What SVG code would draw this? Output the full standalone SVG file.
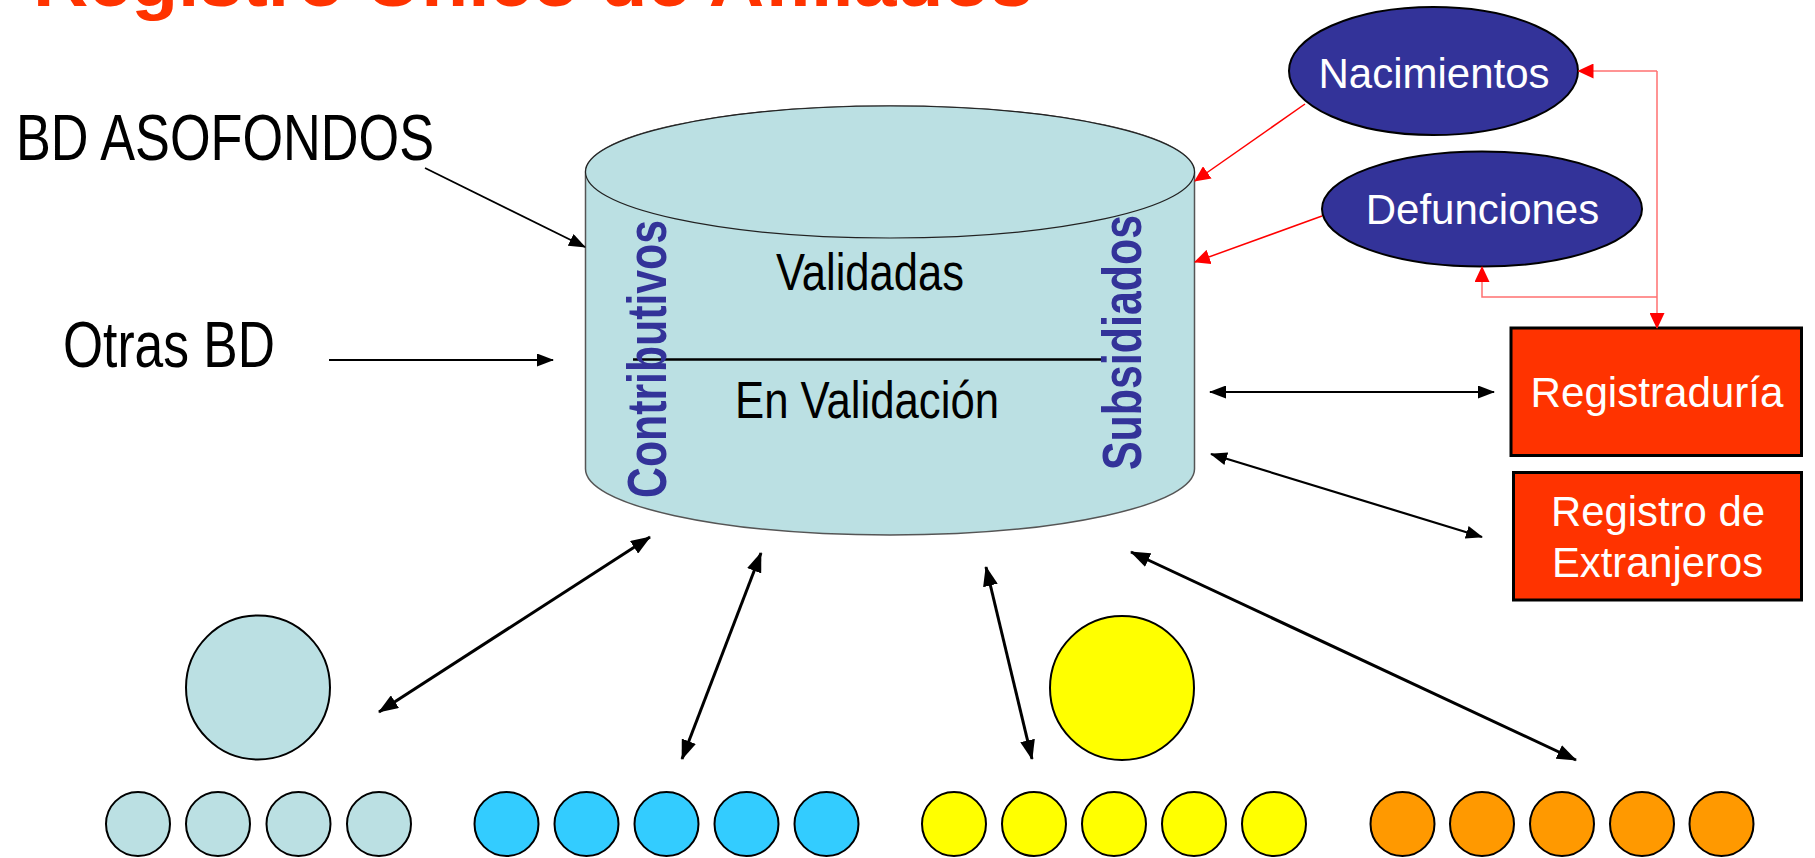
<svg xmlns="http://www.w3.org/2000/svg" width="1815" height="858" viewBox="0 0 1815 858">
<style>
.sans{font-family:"Liberation Sans",Arial,sans-serif}
.bk{stroke:#000;fill:none}
.rd{stroke:#FF0000;fill:none;stroke-width:1.5}
.rdl{stroke:#FF7070;fill:none;stroke-width:1.5}
.oval{fill:#333399;stroke:#000;stroke-width:2}
.ovt{fill:#fff;font-size:42px;text-anchor:middle}
.box{fill:#FF3300;stroke:#000;stroke-width:3}
.sc{stroke:#000;stroke-width:2}
.lb{fill:#BBE0E3}
.cy{fill:#33CCFF}
.ye{fill:#FFFF00}
.or{fill:#FF9900}
.blk{font-size:65px;fill:#000}
.cyl{font-size:52px;fill:#000;text-anchor:middle}
.side{font-size:56px;font-weight:bold;fill:#333399}
</style>
<defs>
<marker id="ah" markerUnits="userSpaceOnUse" markerWidth="17" markerHeight="13" refX="16" refY="6.5" orient="auto-start-reverse" viewBox="0 0 17 13">
<path d="M0,0 L17,6.5 L0,13 Z" fill="#000"/>
</marker>
<marker id="ahb" markerUnits="userSpaceOnUse" markerWidth="20" markerHeight="15" refX="19" refY="7.5" orient="auto-start-reverse" viewBox="0 0 20 15">
<path d="M0,0 L20,7.5 L0,15 Z" fill="#000"/>
</marker>
<marker id="ar" markerUnits="userSpaceOnUse" markerWidth="16" markerHeight="15" refX="15" refY="7.5" orient="auto" viewBox="0 0 16 15">
<path d="M0,0 L16,7.5 L0,15 Z" fill="#FF0000"/>
</marker>
</defs>

<g id="title">
<text class="sans" x="33" y="6" font-size="72" font-weight="bold" fill="#FF3300" textLength="1000" lengthAdjust="spacingAndGlyphs">Registro Único de Afiliados</text>
</g>

<g id="database">
<path d="M585.5 172 V469 A304.5 66 0 0 0 1194.5 469 V172 A304.5 66 0 0 0 585.5 172 Z" fill="#BBE0E3" stroke="#555" stroke-width="1.5"/>
<ellipse cx="890" cy="172" rx="304.5" ry="66" fill="#BBE0E3" stroke="#222" stroke-width="1.2"/>
<line x1="633" y1="359.5" x2="1103" y2="359.5" stroke="#000" stroke-width="2.5"/>
<text class="sans cyl" x="870" y="290" textLength="188" lengthAdjust="spacingAndGlyphs">Validadas</text>
<text class="sans cyl" x="867" y="418" textLength="264" lengthAdjust="spacingAndGlyphs">En Validación</text>
<text class="sans side" transform="translate(666,498) rotate(-90)" textLength="278" lengthAdjust="spacingAndGlyphs">Contributivos</text>
<text class="sans side" transform="translate(1141,470) rotate(-90)" textLength="255" lengthAdjust="spacingAndGlyphs">Subsidiados</text>
</g>

<g id="bd-asofondos">
<text class="sans blk" x="16" y="160" textLength="418" lengthAdjust="spacingAndGlyphs">BD ASOFONDOS</text>
</g>
<g id="otras-bd">
<text class="sans blk" x="63" y="367" textLength="212" lengthAdjust="spacingAndGlyphs">Otras BD</text>
</g>

<g id="nacimientos">
<ellipse class="oval" cx="1433.5" cy="71" rx="144.5" ry="64"/>
<text class="sans ovt" x="1434" y="88">Nacimientos</text>
</g>
<g id="defunciones">
<ellipse class="oval" cx="1482" cy="209" rx="160" ry="57.5"/>
<text class="sans ovt" x="1482.5" y="224">Defunciones</text>
</g>

<g id="registraduria">
<rect class="box" x="1511" y="328" width="290.5" height="127.5"/>
<text class="sans ovt" x="1657" y="407" textLength="253" lengthAdjust="spacingAndGlyphs">Registraduría</text>
</g>
<g id="registro-extranjeros">
<rect class="box" x="1513.5" y="472.5" width="288" height="127.5"/>
<text class="sans ovt" x="1658" y="526" textLength="214" lengthAdjust="spacingAndGlyphs">Registro de</text>
<text class="sans ovt" x="1657.5" y="577" textLength="211" lengthAdjust="spacingAndGlyphs">Extranjeros</text>
</g>

<g id="contributivo-group">
<circle class="sc lb" cx="258" cy="687.5" r="72"/>
<circle class="sc lb" cx="138" cy="824" r="32"/>
<circle class="sc lb" cx="218" cy="824" r="32"/>
<circle class="sc lb" cx="298.5" cy="824" r="32"/>
<circle class="sc lb" cx="379" cy="824" r="32"/>
</g>
<g id="cyan-group">
<circle class="sc cy" cx="506.5" cy="824" r="32"/>
<circle class="sc cy" cx="586.5" cy="824" r="32"/>
<circle class="sc cy" cx="666.5" cy="824" r="32"/>
<circle class="sc cy" cx="746.5" cy="824" r="32"/>
<circle class="sc cy" cx="826.5" cy="824" r="32"/>
</g>
<g id="subsidiado-group">
<circle class="sc ye" cx="1122" cy="688" r="72"/>
<circle class="sc ye" cx="954" cy="824" r="32"/>
<circle class="sc ye" cx="1034" cy="824" r="32"/>
<circle class="sc ye" cx="1114" cy="824" r="32"/>
<circle class="sc ye" cx="1194" cy="824" r="32"/>
<circle class="sc ye" cx="1274" cy="824" r="32"/>
</g>
<g id="orange-group">
<circle class="sc or" cx="1402.5" cy="824" r="32"/>
<circle class="sc or" cx="1482" cy="824" r="32"/>
<circle class="sc or" cx="1562" cy="824" r="32"/>
<circle class="sc or" cx="1642" cy="824" r="32"/>
<circle class="sc or" cx="1721.5" cy="824" r="32"/>
</g>

<g id="connectors">
<line class="bk" stroke-width="1.8" x1="425" y1="168" x2="585" y2="247" marker-end="url(#ah)"/>
<line class="bk" stroke-width="1.8" x1="329" y1="360" x2="553" y2="360" marker-end="url(#ah)"/>
<line class="bk" stroke-width="2.2" x1="1210" y1="392" x2="1494" y2="392" marker-start="url(#ah)" marker-end="url(#ah)"/>
<line class="bk" stroke-width="2.2" x1="1211" y1="454" x2="1482" y2="537" marker-start="url(#ah)" marker-end="url(#ah)"/>
<line class="bk" stroke-width="3" x1="650" y1="537" x2="379" y2="712" marker-start="url(#ahb)" marker-end="url(#ahb)"/>
<line class="bk" stroke-width="3" x1="761" y1="553" x2="682" y2="759" marker-start="url(#ahb)" marker-end="url(#ahb)"/>
<line class="bk" stroke-width="3" x1="986" y1="567" x2="1032" y2="759" marker-start="url(#ahb)" marker-end="url(#ahb)"/>
<line class="bk" stroke-width="3" x1="1131" y1="552" x2="1576" y2="760" marker-start="url(#ahb)" marker-end="url(#ahb)"/>
<line class="rd" x1="1305" y1="104" x2="1195" y2="181" marker-end="url(#ar)"/>
<line class="rd" x1="1322" y1="216" x2="1195" y2="262" marker-end="url(#ar)"/>
<polyline class="rdl" points="1657,71 1657,328" marker-end="url(#ar)"/>
<polyline class="rdl" points="1657,71 1578.5,71" marker-end="url(#ar)"/>
<polyline class="rdl" points="1657,297 1482,297 1482,267" marker-end="url(#ar)"/>
</g>
</svg>
